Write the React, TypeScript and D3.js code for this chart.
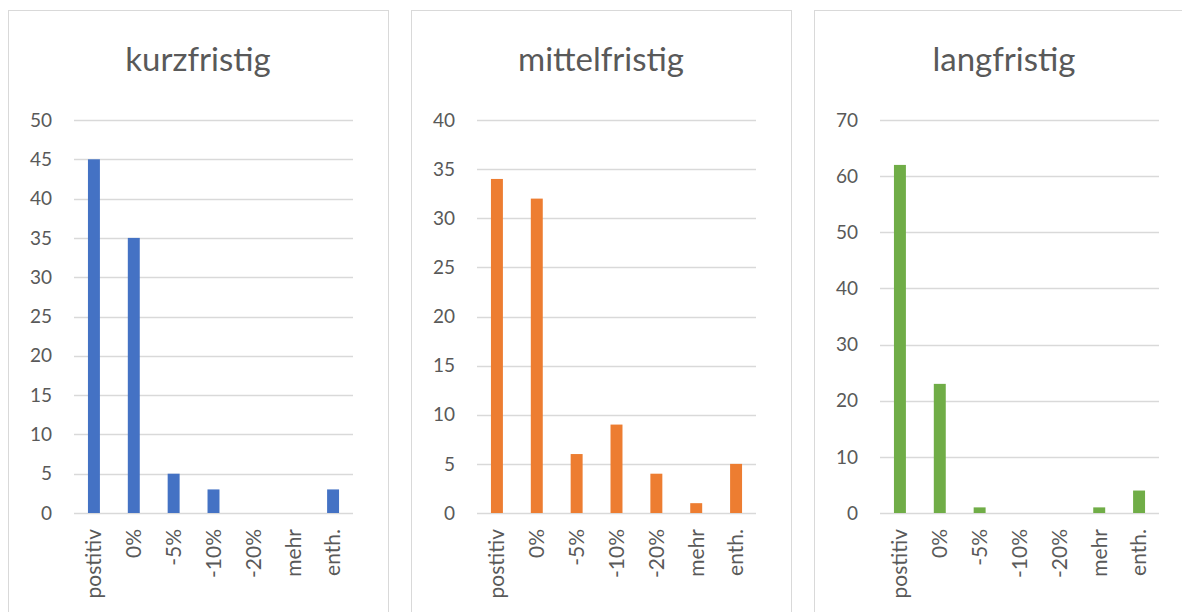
import React, { useEffect, useRef } from 'react'
import * as d3 from 'd3'

const categories = ['postitiv', '0%', '-5%', '-10%', '-20%', 'mehr', 'enth.']
const titles = ['kurzfristig', 'mittelfristig', 'langfristig']
const kurz = [45, 35, 5, 3, 0, 0, 3]
const mittel = [34, 32, 6, 9, 4, 1, 5]
const lang = [62, 23, 1, 0, 0, 1, 4]
const maxima = [50, 40, 70]
const steps = [5, 5, 10]
const colors = ['#4472C4', '#ED7D31', '#70AD47']

export default function App() {
  const ref = useRef<SVGSVGElement>(null)

  useEffect(() => {
    const svg = d3.select(ref.current)
    svg.selectAll('*').remove()
    const series = [kurz, mittel, lang]
    const font = 'Lato, "Open Sans", sans-serif'

    series.forEach((values, i) => {
      const left = 8 + i * 403
      const g = svg.append('g').attr('transform', `translate(${left},10)`)

      g.append('rect')
        .attr('x', 0.5)
        .attr('y', 0.5)
        .attr('width', 380)
        .attr('height', 640)
        .attr('fill', '#fff')
        .attr('stroke', '#d9d9d9')

      g.append('text')
        .attr('x', 190)
        .attr('y', 61)
        .attr('text-anchor', 'middle')
        .attr('font-family', font)
        .attr('font-size', 33)
        .attr('fill', '#595959')
        .text(titles[i])

      const x = d3.scaleBand().domain(categories).range([66, 345]).paddingInner(0.7).paddingOuter(0.35)
      const y = d3.scaleLinear().domain([0, maxima[i]]).range([503, 110])

      const ticks = d3.range(0, maxima[i] + steps[i], steps[i])
      g.append('g')
        .selectAll('line')
        .data(ticks)
        .join('line')
        .attr('x1', 66)
        .attr('x2', 345)
        .attr('y1', (d) => Math.round(y(d)) + 0.5)
        .attr('y2', (d) => Math.round(y(d)) + 0.5)
        .attr('stroke', '#d9d9d9')
        .attr('stroke-width', 1.3)

      g.append('g')
        .selectAll('text')
        .data(ticks)
        .join('text')
        .attr('x', 44)
        .attr('y', (d) => y(d))
        .attr('dy', '0.35em')
        .attr('text-anchor', 'end')
        .attr('font-family', font)
        .attr('font-size', 19)
        .attr('fill', '#595959')
        .text((d) => d)

      g.append('g')
        .selectAll('rect')
        .data(values)
        .join('rect')
        .attr('x', (d, j) => x(categories[j]))
        .attr('width', x.bandwidth())
        .attr('y', (d) => y(d))
        .attr('height', (d) => y(0) - y(d))
        .attr('fill', colors[i])

      g.append('g')
        .selectAll('text')
        .data(categories)
        .join('text')
        .attr('transform', (d) => `translate(${x(d) + x.bandwidth() / 2},519) rotate(-90)`)
        .attr('dy', '0.35em')
        .attr('text-anchor', 'end')
        .attr('font-family', font)
        .attr('font-size', 21)
        .attr('fill', '#595959')
        .text((d) => d)
    })
  }, [])

  return (
    <svg
      ref={ref}
      width={1182}
      height={612}
      style={{ position: 'absolute', left: 0, top: 0, background: '#fff' }}
    ></svg>
  )
}
